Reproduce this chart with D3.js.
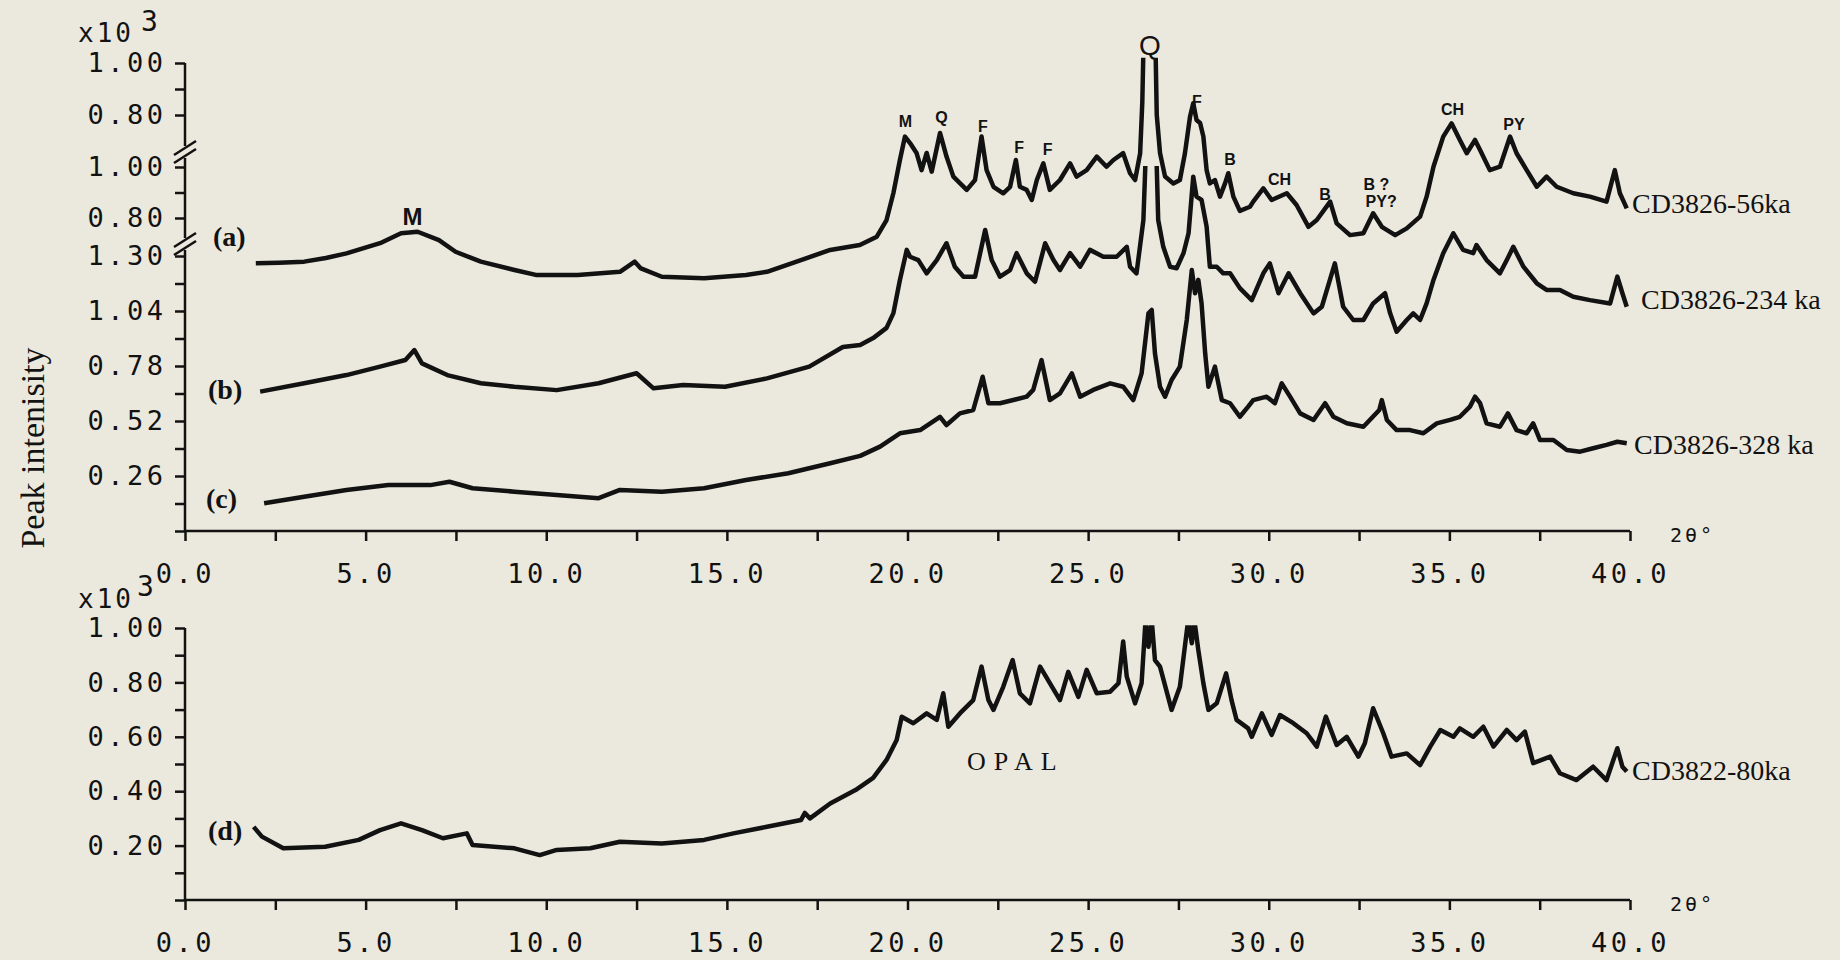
<!DOCTYPE html>
<meta charset="utf-8">
<title>XRD patterns CD3826 / CD3822</title>
<body>
<script src="https://cdn.jsdelivr.net/npm/d3@7"></script>
<style>
html, body {
    margin: 0;
    background: #ebe9dd;
}
svg {
    display: block;
}
</style>
<script>
var width = 1840,
    height = 960,
    ink = "#121212",
    paper = "#ebe9dd",
    mono = "'DejaVu Sans Mono', monospace",
    serif = "'Liberation Serif', 'DejaVu Serif', serif",
    sans = "'Liberation Sans', Arial, sans-serif";

// [2θ, intensity x10^3]
var trace56 = [[1.96,0.230],[2.6,0.232],[3.30,0.236],[3.9,0.250],[4.47,0.268],[5.40,0.307],[5.98,0.345],[6.44,0.351],[7.03,0.319],[7.49,0.274],[8.19,0.236],[9.12,0.204],[9.71,0.185],[10.87,0.185],[12.04,0.197],[12.45,0.236],[12.62,0.210],[13.20,0.178],[14.37,0.172],[15.53,0.185],[16.11,0.197],[17.05,0.242],[17.86,0.281],[18.68,0.300],[19.15,0.332],[19.42,0.396],[19.61,0.500],[19.79,0.627],[19.93,0.717],[20.07,0.692],[20.25,0.654],[20.39,0.588],[20.53,0.654],[20.67,0.582],[20.90,0.731],[21.08,0.640],[21.27,0.563],[21.45,0.538],[21.64,0.512],[21.87,0.550],[22.05,0.717],[22.19,0.588],[22.38,0.524],[22.65,0.499],[22.84,0.524],[23.00,0.627],[23.11,0.524],[23.30,0.512],[23.44,0.473],[23.58,0.550],[23.76,0.614],[23.94,0.512],[24.22,0.550],[24.50,0.614],[24.68,0.563],[24.96,0.588],[25.24,0.640],[25.51,0.601],[25.70,0.627],[25.97,0.653],[26.16,0.576],[26.30,0.550],[26.44,0.653],[26.50,0.850],[26.56,1.250],[26.70,1.400],[26.84,1.250],[26.90,0.800],[26.99,0.654],[27.13,0.563],[27.36,0.537],[27.54,0.550],[27.68,0.653],[27.82,0.793],[27.91,0.845],[28.00,0.781],[28.10,0.769],[28.19,0.717],[28.28,0.588],[28.37,0.537],[28.51,0.550],[28.65,0.486],[28.79,0.537],[28.88,0.576],[29.02,0.486],[29.20,0.431],[29.48,0.447],[29.57,0.467],[29.85,0.518],[30.08,0.473],[30.50,0.499],[30.77,0.454],[31.10,0.370],[31.33,0.396],[31.70,0.467],[31.88,0.383],[32.25,0.338],[32.62,0.345],[32.89,0.422],[33.13,0.370],[33.50,0.338],[33.82,0.364],[34.19,0.409],[34.37,0.486],[34.56,0.601],[34.83,0.717],[35.06,0.768],[35.29,0.704],[35.48,0.653],[35.71,0.704],[35.85,0.665],[36.12,0.588],[36.40,0.601],[36.68,0.717],[36.86,0.653],[37.14,0.588],[37.42,0.524],[37.69,0.563],[37.97,0.524],[38.43,0.499],[38.89,0.486],[39.35,0.467],[39.58,0.588],[39.72,0.499],[39.91,0.441]];

var trace234 = [[2.08,0.119],[3.30,0.152],[4.47,0.184],[5.40,0.217],[6.10,0.243],[6.35,0.282],[6.56,0.230],[7.26,0.184],[8.19,0.152],[9.12,0.138],[10.29,0.125],[11.45,0.152],[12.50,0.191],[12.97,0.132],[13.79,0.145],[14.95,0.138],[16.11,0.171],[17.28,0.217],[18.21,0.294],[18.69,0.302],[19.05,0.329],[19.42,0.369],[19.61,0.427],[19.79,0.557],[19.98,0.675],[20.07,0.648],[20.30,0.635],[20.53,0.583],[20.81,0.635],[21.08,0.701],[21.31,0.609],[21.55,0.570],[21.87,0.570],[22.15,0.753],[22.33,0.635],[22.56,0.570],[22.84,0.596],[23.02,0.662],[23.30,0.583],[23.53,0.550],[23.81,0.701],[24.04,0.635],[24.22,0.596],[24.50,0.662],[24.78,0.609],[25.05,0.675],[25.42,0.648],[25.79,0.648],[26.07,0.687],[26.16,0.609],[26.34,0.583],[26.53,0.792],[26.62,1.150],[26.74,1.300],[26.87,1.150],[26.94,0.792],[27.08,0.687],[27.27,0.609],[27.45,0.603],[27.64,0.662],[27.78,0.740],[27.91,0.962],[28.00,0.884],[28.14,0.871],[28.28,0.766],[28.37,0.609],[28.56,0.609],[28.74,0.583],[28.93,0.583],[29.20,0.525],[29.53,0.478],[29.85,0.583],[30.03,0.622],[30.27,0.505],[30.55,0.583],[30.87,0.505],[31.24,0.426],[31.47,0.452],[31.83,0.622],[32.06,0.452],[32.34,0.400],[32.62,0.400],[32.89,0.465],[33.22,0.505],[33.36,0.426],[33.54,0.354],[33.82,0.400],[34.00,0.426],[34.19,0.400],[34.37,0.465],[34.56,0.557],[34.83,0.662],[35.11,0.740],[35.38,0.675],[35.66,0.662],[35.75,0.694],[36.03,0.635],[36.40,0.583],[36.59,0.635],[36.77,0.687],[37.05,0.609],[37.42,0.544],[37.69,0.518],[38.06,0.518],[38.43,0.491],[38.89,0.478],[39.45,0.465],[39.65,0.570],[39.79,0.505],[39.91,0.452]];

var trace328 = [[2.19,0.131],[3.30,0.162],[4.47,0.194],[5.63,0.217],[6.79,0.217],[7.32,0.233],[7.96,0.202],[9.12,0.186],[10.29,0.170],[11.45,0.155],[12.04,0.194],[13.20,0.186],[14.37,0.202],[15.53,0.241],[16.70,0.273],[17.86,0.320],[18.69,0.355],[19.24,0.399],[19.79,0.462],[20.35,0.477],[20.90,0.540],[21.08,0.501],[21.45,0.556],[21.82,0.572],[22.08,0.729],[22.24,0.604],[22.56,0.604],[22.93,0.619],[23.30,0.635],[23.48,0.667],[23.71,0.808],[23.94,0.619],[24.22,0.651],[24.55,0.745],[24.78,0.635],[25.14,0.667],[25.61,0.698],[25.97,0.682],[26.25,0.619],[26.48,0.745],[26.67,1.029],[26.76,1.045],[26.85,0.840],[26.99,0.682],[27.13,0.635],[27.31,0.714],[27.54,0.777],[27.73,0.997],[27.87,1.234],[27.96,1.124],[28.05,1.187],[28.14,1.076],[28.24,0.840],[28.33,0.682],[28.51,0.777],[28.70,0.619],[28.93,0.604],[29.20,0.540],[29.43,0.588],[29.57,0.619],[29.94,0.635],[30.17,0.604],[30.36,0.698],[30.59,0.635],[30.87,0.556],[31.24,0.525],[31.56,0.604],[31.79,0.540],[32.16,0.509],[32.62,0.493],[33.06,0.572],[33.13,0.619],[33.27,0.525],[33.54,0.477],[33.91,0.477],[34.28,0.462],[34.65,0.509],[35.02,0.525],[35.29,0.540],[35.57,0.588],[35.71,0.635],[35.85,0.604],[36.03,0.509],[36.40,0.493],[36.62,0.556],[36.86,0.477],[37.14,0.462],[37.32,0.509],[37.51,0.430],[37.88,0.430],[38.25,0.383],[38.62,0.375],[38.98,0.391],[39.35,0.407],[39.65,0.422],[39.91,0.415]];

var trace80 = [[1.90,0.269],[2.13,0.233],[2.72,0.190],[3.88,0.196],[4.81,0.221],[5.40,0.257],[5.98,0.282],[6.56,0.257],[7.14,0.227],[7.80,0.245],[7.96,0.202],[9.12,0.190],[9.82,0.165],[10.29,0.184],[11.22,0.190],[12.04,0.214],[13.20,0.208],[14.37,0.221],[15.18,0.245],[16.11,0.269],[17.05,0.294],[17.16,0.320],[17.30,0.300],[17.86,0.355],[18.56,0.404],[19.05,0.449],[19.42,0.515],[19.70,0.588],[19.84,0.674],[20.16,0.650],[20.53,0.686],[20.81,0.662],[20.99,0.760],[21.13,0.637],[21.45,0.686],[21.82,0.735],[22.05,0.858],[22.24,0.735],[22.38,0.699],[22.65,0.784],[22.91,0.882],[23.11,0.760],[23.39,0.723],[23.67,0.858],[23.94,0.797],[24.22,0.735],[24.45,0.839],[24.73,0.747],[24.96,0.846],[25.24,0.760],[25.61,0.766],[25.84,0.797],[25.97,0.950],[26.07,0.821],[26.30,0.723],[26.48,0.797],[26.59,1.030],[26.67,0.931],[26.76,1.030],[26.85,0.882],[26.99,0.858],[27.31,0.699],[27.54,0.784],[27.77,1.030],[27.87,0.944],[27.94,1.030],[28.05,0.919],[28.19,0.797],[28.33,0.699],[28.56,0.723],[28.82,0.833],[28.97,0.735],[29.11,0.662],[29.43,0.631],[29.53,0.600],[29.81,0.686],[30.08,0.607],[30.31,0.680],[30.68,0.650],[31.05,0.613],[31.33,0.564],[31.58,0.674],[31.88,0.570],[32.16,0.600],[32.48,0.527],[32.66,0.576],[32.89,0.705],[33.17,0.613],[33.40,0.527],[33.82,0.539],[34.19,0.496],[34.47,0.564],[34.75,0.625],[35.11,0.600],[35.29,0.631],[35.66,0.600],[35.94,0.637],[36.22,0.564],[36.59,0.625],[36.86,0.588],[37.09,0.619],[37.32,0.503],[37.79,0.527],[38.06,0.466],[38.52,0.441],[38.98,0.490],[39.35,0.441],[39.65,0.558],[39.79,0.490],[39.91,0.472]];

var xTicks = d3.range(0, 40.01, 2.5),
    yTicksC = d3.range(0, 1.301, 0.13),
    yTicksSplit = [0.8, 0.9, 1.0],
    yTicksD = d3.range(0, 1.001, 0.1);

// mineral labels on the 56 ka trace: [text, 2θ, level on its scale]
var peaks56 = [["M", 19.94, 0.754], ["Q", 20.94, 0.769], ["F", 22.09, 0.735], ["F", 23.09, 0.654],
    ["F", 23.88, 0.646], ["F", 28.01, 0.831], ["B", 28.93, 0.608], ["CH", 30.30, 0.531],
    ["B", 31.56, 0.473], ["B ?", 32.98, 0.512], ["PY?", 33.11, 0.446], ["CH", 35.09, 0.800],
    ["PY", 36.79, 0.742]];

var x = d3.scaleLinear().domain([0, 40]).range([185, 1630]),
    yA = d3.scaleLinear().domain([0.8, 1.0]).range([115, 63]),
    yB = d3.scaleLinear().domain([0.8, 1.0]).range([218, 167]),
    yC = d3.scaleLinear().domain([0, 1.3]).range([531, 256]),
    yD = d3.scaleLinear().domain([0, 1.0]).range([900, 628]);

var breakY = [152, 244];

var svg = d3.select("body").append("svg")
    .attr("width", width)
    .attr("height", height);

svg.append("rect").attr("width", width).attr("height", height).attr("fill", paper);

function styleAxis(g) {
  g.select(".domain").remove();
  g.selectAll(".tick line").attr("stroke", ink).attr("stroke-width", 2.5);
  g.selectAll(".tick text")
      .attr("fill", ink)
      .attr("font-family", mono)
      .attr("font-size", 27)
      .attr("letter-spacing", 3.5);
}

function every2(d, i) { return i > 0 && i % 2 === 0 ? d.toFixed(2) : ""; }
function split(d) { return Math.abs(d - 0.9) < 1e-6 ? "" : d.toFixed(2); }
function xfmt(d, i) { return i % 2 === 0 ? d.toFixed(1) : ""; }

function vline(x0, y0, y1) {
  svg.append("line")
      .attr("x1", x0).attr("x2", x0).attr("y1", y0).attr("y2", y1)
      .attr("stroke", ink).attr("stroke-width", 2.5);
}

// ---- x axes
[yC(0), yD(0)].forEach(function(y0) {
  svg.append("g")
      .attr("transform", "translate(0," + y0 + ")")
      .call(d3.axisBottom(x).tickValues(xTicks).tickFormat(xfmt).tickSize(10).tickPadding(23))
      .call(styleAxis);
  svg.append("line")
      .attr("x1", x(0)).attr("x2", x(40)).attr("y1", y0).attr("y2", y0)
      .attr("stroke", ink).attr("stroke-width", 2.5);
  svg.append("text")
      .attr("x", x(40) + 40).attr("y", y0 + 11)
      .attr("font-family", mono).attr("font-size", 20).attr("letter-spacing", 3)
      .attr("fill", ink)
      .text("2θ°");
});

// ---- top y axis in three broken pieces
var x0 = x(0);
svg.append("g").attr("transform", "translate(" + x0 + ",0)")
    .call(d3.axisLeft(yA).tickValues(yTicksSplit).tickFormat(split).tickSize(10).tickPadding(8.5))
    .call(styleAxis);
svg.append("g").attr("transform", "translate(" + x0 + ",0)")
    .call(d3.axisLeft(yB).tickValues(yTicksSplit).tickFormat(split).tickSize(10).tickPadding(8.5))
    .call(styleAxis);
svg.append("g").attr("transform", "translate(" + x0 + ",0)")
    .call(d3.axisLeft(yC).tickValues(yTicksC).tickFormat(every2).tickSize(10).tickPadding(8.5))
    .call(styleAxis);

vline(x0, yA(1.0), breakY[0] - 6);
vline(x0, breakY[0] + 6, breakY[1] - 6);
vline(x0, breakY[1] + 6, yC(0));

breakY.forEach(function(cy) {
  [-4, 4].forEach(function(dy) {
    svg.append("line")
        .attr("x1", x0 - 11).attr("y1", cy + dy + 7)
        .attr("x2", x0 + 11).attr("y2", cy + dy - 7)
        .attr("stroke", ink).attr("stroke-width", 2.5);
  });
});

// ---- bottom y axis
svg.append("g").attr("transform", "translate(" + x0 + ",0)")
    .call(d3.axisLeft(yD).tickValues(yTicksD).tickFormat(every2).tickSize(10).tickPadding(8.5))
    .call(styleAxis);
vline(x0, yD(1.0), yD(0));

// x10^3 multipliers
[[42, 31, 141], [608, 596, 137]].forEach(function(p) {
  svg.append("text").attr("x", 78).attr("y", p[0])
      .attr("font-family", mono).attr("font-size", 26).attr("letter-spacing", 3)
      .attr("fill", ink).text("x10");
  svg.append("text").attr("x", p[2]).attr("y", p[1])
      .attr("font-family", mono).attr("font-size", 28)
      .attr("fill", ink).text("3");
});

svg.append("text")
    .attr("transform", "translate(44,448) rotate(-90)")
    .attr("text-anchor", "middle")
    .attr("font-family", serif).attr("font-size", 34)
    .attr("fill", ink)
    .text("Peak intenisity");

// ---- traces, clipped at the top of their own scale
var defs = svg.append("defs");
function clip(id, top) {
  defs.append("clipPath").attr("id", id)
    .append("rect").attr("x", 0).attr("y", top).attr("width", width).attr("height", height - top);
  return "url(#" + id + ")";
}

var traces = [
  { data: trace56, y: yA, clip: clip("cA", yA(1.02)) },
  { data: trace234, y: yB, clip: clip("cB", yB(1.0) - 1) },
  { data: trace328, y: yC, clip: null },
  { data: trace80, y: yD, clip: clip("cD", yD(1.01)) }
];

traces.forEach(function(t) {
  var line = d3.line()
      .x(function(d) { return x(d[0]); })
      .y(function(d) { return t.y(d[1]); });
  svg.append("path")
      .datum(t.data)
      .attr("d", line)
      .attr("fill", "none")
      .attr("stroke", ink)
      .attr("stroke-width", 4.5)
      .attr("stroke-linejoin", "round")
      .attr("clip-path", t.clip);
});

// ---- curve labels
var tags = [["(a)", 213, 246], ["(b)", 208, 399], ["(c)", 206, 508], ["(d)", 208, 840]];
tags.forEach(function(t) {
  svg.append("text").attr("x", t[1]).attr("y", t[2])
      .attr("font-family", serif).attr("font-size", 28).attr("font-weight", "bold")
      .attr("fill", ink).text(t[0]);
});

var names = [["CD3826-56ka", yA, 0.423, 2], ["CD3826-234 ka", yB, 0.443, 11],
             ["CD3826-328 ka", yC, 0.364, 4], ["CD3822-80ka", yD, 0.441, 2]];
names.forEach(function(n) {
  svg.append("text").attr("x", x(40) + n[3]).attr("y", n[1](n[2]))
      .attr("font-family", serif).attr("font-size", 28)
      .attr("fill", ink).text(n[0]);
});

peaks56.forEach(function(p) {
  svg.append("text").attr("x", x(p[1])).attr("y", yA(p[2]))
      .attr("text-anchor", "middle")
      .attr("font-family", sans).attr("font-size", 16).attr("font-weight", "bold")
      .attr("fill", ink).text(p[0]);
});

svg.append("text").attr("x", x(26.71)).attr("y", yA(1.031))
    .attr("text-anchor", "middle")
    .attr("font-family", sans).attr("font-size", 28)
    .attr("fill", ink).text("Q");

svg.append("text").attr("x", x(6.30)).attr("y", yA(0.377))
    .attr("text-anchor", "middle")
    .attr("font-family", sans).attr("font-size", 24).attr("font-weight", "bold")
    .attr("fill", ink).text("M");

svg.append("text").attr("x", x(21.65)).attr("y", yD(0.478))
    .attr("font-family", serif).attr("font-size", 26).attr("letter-spacing", 8)
    .attr("fill", ink).text("OPAL");
</script>
